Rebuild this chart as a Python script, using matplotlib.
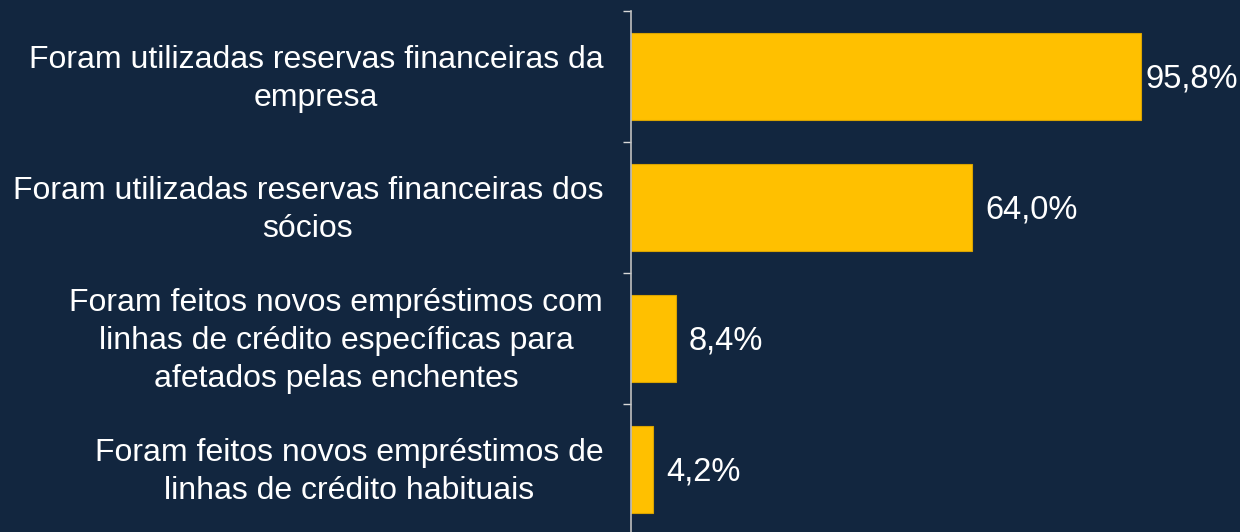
import matplotlib
matplotlib.use("Agg")
import matplotlib.pyplot as plt

categories = [
    "Foram utilizadas reservas financeiras da\nempresa",
    "Foram utilizadas reservas financeiras dos\nsócios",
    "Foram feitos novos empréstimos com\nlinhas de crédito específicas para\nafetados pelas enchentes",
    "Foram feitos novos empréstimos de\nlinhas de crédito habituais",
]
values = [95.8, 64.0, 8.4, 4.2]
value_labels = ["95,8%", "64,0%", "8,4%", "4,2%"]

bg = "#12263F"
bar_color = "#FFC000"
plt.rcParams['font.family'] = ['Liberation Sans', 'DejaVu Sans']

fig = plt.figure(figsize=(12.4, 5.32), dpi=100, facecolor=bg)
ax = fig.add_axes([631/1240, -3/532, 1 - 631/1240, 524/532])
ax.set_facecolor(bg)

ypos = list(range(len(categories)))
ax.barh(ypos, values, height=0.66, color=bar_color, edgecolor="#D9A300", linewidth=0.8)
ax.set_ylim(len(categories) - 0.5, -0.5)
ax.set_xlim(0, 609/5.324)

for i, (y, v, lab) in enumerate(zip(ypos, values, value_labels)):
    off = 3 if i == 0 else 9.5
    ax.annotate(lab, (v, y), xytext=(off, -1.8), textcoords="offset points",
                va="center", ha="left", color="white", fontsize=23.5)

for y, c in zip(ypos, categories):
    ax.annotate(c, (0, y), xytext=(-20, -1.8), textcoords="offset points",
                va="center", ha="right", color="white", fontsize=23,
                multialignment="center", linespacing=1.33)

ax.set_yticks([i - 0.5 for i in range(len(categories) + 1)])
ax.set_yticklabels([])
ax.tick_params(axis="y", length=6, width=1, color="#D9D9D9", direction="out")
ax.set_xticks([])
for s in ["top", "right", "bottom"]:
    ax.spines[s].set_visible(False)
ax.spines["left"].set_color("#BFBFBF")
ax.spines["left"].set_linewidth(1.2)

fig.savefig("out.png", dpi=100, facecolor=bg)
